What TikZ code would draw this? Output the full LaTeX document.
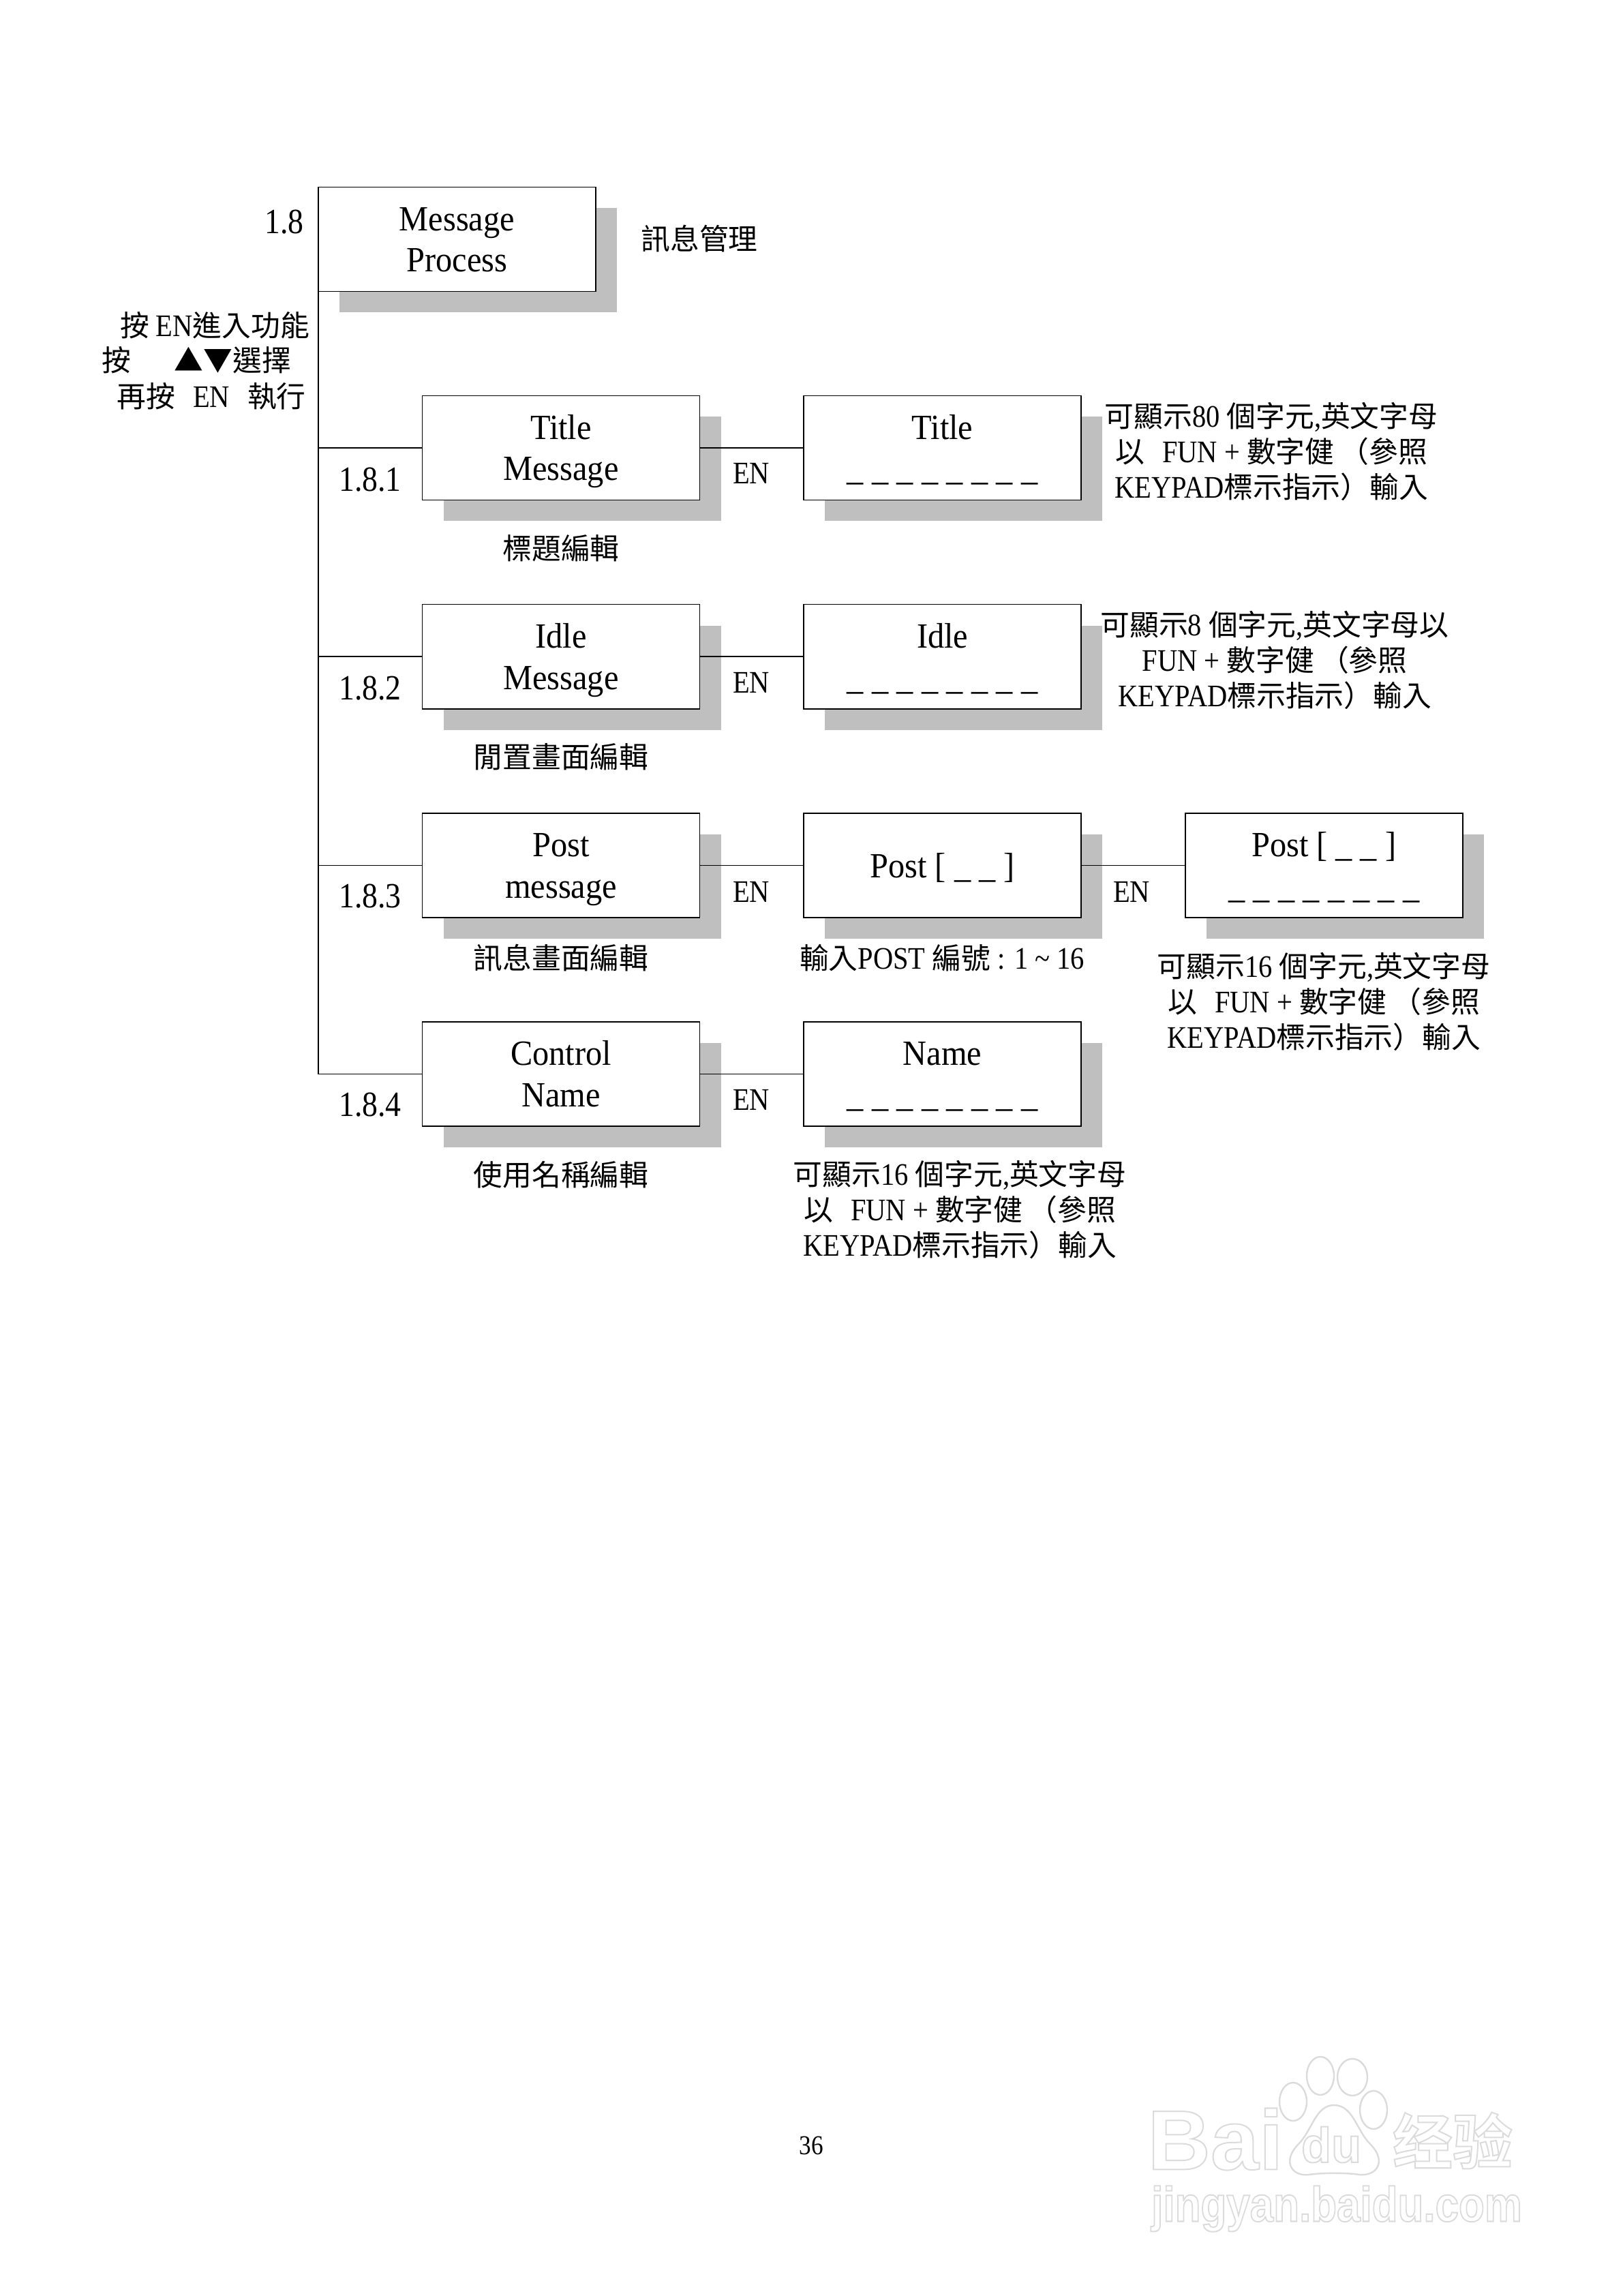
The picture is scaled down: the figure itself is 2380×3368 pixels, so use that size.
\documentclass[tikz,border=0pt]{standalone}
\usepackage{fontspec}
\setmainfont{Liberation Serif}[FakeStretch=0.88]
\newfontfamily\boxfont{Liberation Serif}[FakeStretch=0.93]
\newfontfamily\zhfont[Scale=0.93]{Noto Sans CJK TC}
\newfontfamily\wmfont{Liberation Sans Bold}
\newfontfamily\wmzhfont{Noto Sans CJK SC Bold}
\usetikzlibrary{positioning, shadows}
\definecolor{shadowgray}{gray}{0.75}
\definecolor{markgray}{gray}{0.86}
\newcommand{\zh}[1]{{\zhfont #1}}
\newcommand{\hollow}[1]{\special{pdf:code q 1 Tr 0.5 w}#1\special{pdf:code Q}}
\newcommand{\blanks}{\_\hspace{3.1pt}\_\hspace{3.1pt}\_\hspace{3.1pt}\_\hspace{3.1pt}\_\hspace{3.1pt}\_\hspace{3.1pt}\_\hspace{3.1pt}\_}
\newcommand{\keypadnote}[1]{\zh{可顯示}#1 \zh{個字元},\zh{英文字母}\\\zh{以}\hspace{4pt} FUN + \zh{數字健}\hspace{2pt}\zh{（參照}\\KEYPAD\zh{標示指示}\zh{）輸入}}
\begin{document}
\begin{tikzpicture}[
  x=0.25pt, y=-0.25pt,
  node distance=38.3pt and 38.15pt,
  box/.style={draw, line width=0.4pt, fill=white, align=center, inner sep=0pt, outer sep=0pt,
    minimum width=101.75pt, minimum height=38.25pt, text height=25.2pt, text depth=1.2pt,
    font=\boxfont\fontsize{13}{15.2}\selectfont,
    drop shadow={shadow xshift=7.75pt, shadow yshift=-7.75pt, fill=shadowgray, opacity=1}},
  line/.style={line width=0.4pt},
  note/.style={align=center, inner sep=0pt, font=\fontsize{11.5}{13}\selectfont},
  numlabel/.style={inner sep=0pt, font=\fontsize{13}{15}\selectfont},
  wmtext/.style={inner sep=0pt, text=markgray},
  wmshape/.style={draw=markgray, line width=0.6pt, fill=white}
]
\useasboundingbox (0,0) rectangle (2380,3368);

% watermark
\draw[wmshape] (1897,3083) ellipse [x radius=20, y radius=28];
\draw[wmshape] (1937,3045) ellipse [x radius=20, y radius=28];
\draw[wmshape] (1984,3047) ellipse [x radius=22, y radius=27];
\draw[wmshape] (2015,3095) ellipse [x radius=20, y radius=28];
\draw[wmshape] (1957,3088) .. controls (1985,3088) and (1990,3125) .. (2010,3145)
  .. controls (2035,3170) and (2020,3192) .. (1995,3190)
  .. controls (1975,3187) and (1940,3187) .. (1920,3190)
  .. controls (1895,3193) and (1880,3170) .. (1905,3145)
  .. controls (1925,3125) and (1930,3088) .. (1957,3088) -- cycle;
\node[wmtext, font=\wmfont\fontsize{31}{31}\selectfont, xscale=1.03] (markbai) at (1783,3138) {\hollow{Bai}};
\node[wmtext, font=\wmfont\fontsize{18}{18}\selectfont] (markdu) at (1953,3146) {\hollow{du}};
\node[wmtext, font=\wmzhfont\fontsize{22}{22}\selectfont] (markzh) at (2131,3140) {\hollow{经验}};
\node[wmtext, font=\wmfont\fontsize{18}{18}\selectfont, xscale=0.86] (markurl) at (1961,3240) {\hollow{jingyan.baidu.com}};

\node[box] (process) at (670.5,351) {Message\\Process};
\node[box] (titlemsg) at (823,657) {Title\\Message};
\node[box, below=of titlemsg] (idlemsg) {Idle\\Message};
\node[box, below=of idlemsg] (postmsg) {Post\\message};
\node[box, below=of postmsg] (ctrlname) {Control\\Name};
\node[box, right=of titlemsg] (titleedit) {Title\\\blanks};
\node[box, right=of idlemsg] (idleedit) {Idle\\\blanks};
\node[box, right=of postmsg, text height=10pt] (postnum) {Post [ \_\hspace{3pt}\_ ]};
\node[box, right=of postnum] (postedit) {Post [ \_\hspace{3pt}\_ ]\\\blanks};
\node[box, right=of ctrlname] (nameedit) {Name\\\blanks};

\draw[line] (process.south west) |- (titlemsg.west);
\draw[line] (process.south west) |- (idlemsg.west);
\draw[line] (process.south west) |- (postmsg.west);
\draw[line] (process.south west) |- (ctrlname.west);
\draw[line] (titlemsg) -- (titleedit);
\draw[line] (idlemsg) -- (idleedit);
\draw[line] (postmsg) -- (postnum);
\draw[line] (postnum) -- (postedit);
\draw[line] (ctrlname) -- (nameedit);

\node[numlabel] (num18) at (417,326) {1.8};
\node[numlabel] (num181) at (543,704) {1.8.1};
\node[numlabel] (num182) at (543,1010) {1.8.2};
\node[numlabel] (num183) at (543,1315) {1.8.3};
\node[numlabel] (num184) at (543,1621) {1.8.4};

\node[note] (hintenter) at (315,477) {\zh{按} EN\zh{進入功能}};
\node[note] (hintselect) at (288,528) {\zh{按}\hspace{16pt}\zh{▲▼選擇}};
\node[note] (hintrun) at (310,581) {\zh{再按}\hspace{4pt} EN\hspace{4pt} \zh{執行}};
\node[note] (procnote) at (1026,350) {\zh{訊息管理}};

\node[note] (en1) at (1102,694) {EN};
\node[note] (en2) at (1102,1001) {EN};
\node[note] (en3) at (1102,1308) {EN};
\node[note] (en4) at (1660,1308) {EN};
\node[note] (en5) at (1102,1613) {EN};

\node[note] (titlezh) at (823,804) {\zh{標題編輯}};
\node[note] (idlezh) at (823,1110) {\zh{閒置畫面編輯}};
\node[note] (postzh) at (823,1405) {\zh{訊息畫面編輯}};
\node[note] (namezh) at (823,1723) {\zh{使用名稱編輯}};
\node[note] (postrange) at (1382,1405) {\zh{輸入}POST \zh{編號} : 1 \textasciitilde{} 16};

\node[note] (titlenote) at (1865,662) {\keypadnote{80}};
\node[note] (idlenote) at (1870,968) {\zh{可顯示}8 \zh{個字元},\zh{英文字母以}\\FUN + \zh{數字健}\hspace{2pt}\zh{（參照}\\KEYPAD\zh{標示指示}\zh{）輸入}};
\node[note] (postnote) at (1942,1469) {\keypadnote{16}};
\node[note] (namenote) at (1408,1774) {\keypadnote{16}};

\node[note, font=\fontsize{10}{12}\selectfont] (pagenum) at (1190,3147) {36};
\end{tikzpicture}
\end{document}
